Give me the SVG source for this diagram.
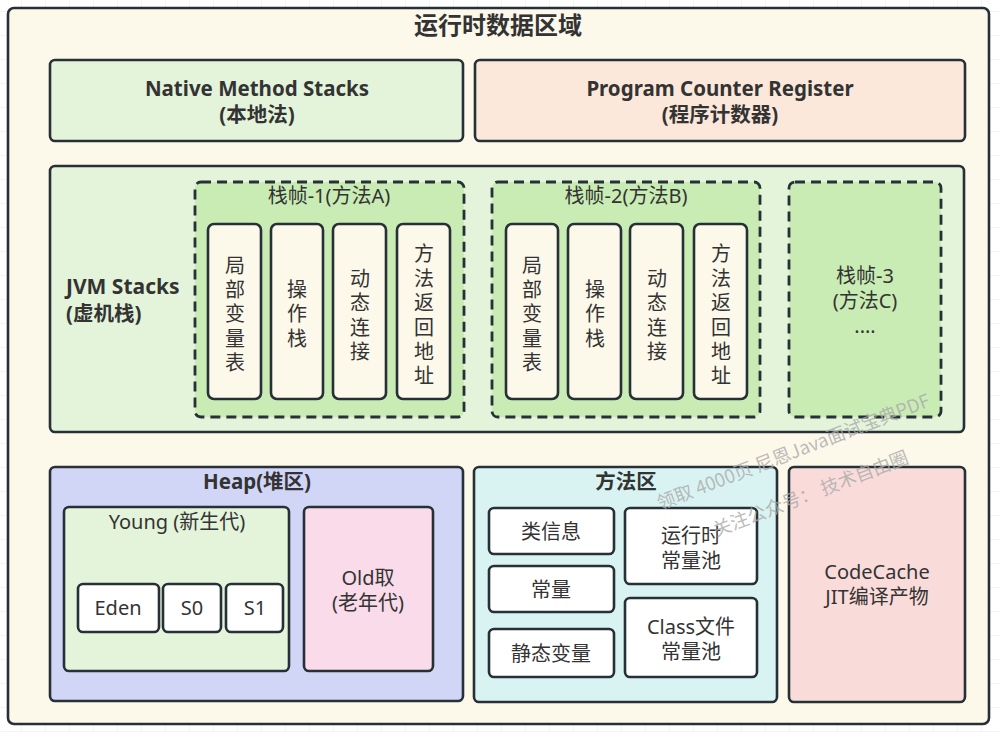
<svg xmlns="http://www.w3.org/2000/svg" width="1000" height="732" viewBox="0 0 1000 732">
<defs>
<pattern id="grid" x="21" y="11" width="24" height="24" patternUnits="userSpaceOnUse">
<path d="M0 0H24M0 0V24" fill="none" stroke="#e9e9e9" stroke-width="1"/>
</pattern>
<style>
.box{stroke:#263036;stroke-width:2.6}
.dash{stroke:#263036;stroke-width:2.8;stroke-dasharray:10 6}
text{font-family:"Noto Sans","Noto Sans CJK SC",sans-serif;fill:#333;text-anchor:middle;font-size:20px}
.b{font-weight:bold;font-size:20.5px}
.v{writing-mode:vertical-rl;letter-spacing:4.4px;font-family:"Noto Sans CJK SC",sans-serif}
.wm{font-family:"Noto Sans CJK SC",sans-serif;fill:#aaa;fill-opacity:0.8;font-size:18.5px;text-anchor:start}
</style>
</defs>
<rect width="1000" height="732" fill="#fff"/>
<rect width="1000" height="732" fill="url(#grid)"/>

<g id="outer">
<rect class="box" x="8" y="8" width="981" height="716" rx="6" fill="#fcf8ea"/>
<text class="b" x="498" y="34" style="font-size:24px">运行时数据区域</text>
</g>

<g id="native">
<rect class="box" x="50" y="60" width="413" height="81" rx="5" fill="#e3f4da"/>
<text class="b" x="257" y="96">Native Method Stacks</text>
<text class="b" x="257" y="122">(本地法)</text>
</g>

<g id="pc">
<rect class="box" x="475" y="60" width="490" height="81" rx="5" fill="#fbe8da"/>
<text class="b" x="720" y="96">Program Counter Register</text>
<text class="b" x="720" y="122">(程序计数器)</text>
</g>

<g id="jvmstacks">
<rect class="box" x="50" y="166" width="914" height="266" rx="5" fill="#e3f4da"/>
<text class="b" x="66" y="294" style="text-anchor:start;font-size:21px">JVM Stacks</text>
<text class="b" x="66" y="321" style="text-anchor:start">(虚机栈)</text>
</g>

<g id="frame1">
<rect class="dash" x="195" y="182" width="269" height="235" rx="6" fill="#c9ecb4"/>
<text x="329" y="203">栈帧-1(方法A)</text>
<rect class="box" x="208" y="224" width="53" height="175" rx="6" fill="#fcf8ea"/>
<text class="v" x="235" y="316">局部变量表</text>
<rect class="box" x="271" y="224" width="52" height="175" rx="6" fill="#fcf8ea"/>
<text class="v" x="297" y="316">操作栈</text>
<rect class="box" x="333" y="224" width="53" height="175" rx="6" fill="#fcf8ea"/>
<text class="v" x="360" y="317">动态连接</text>
<rect class="box" x="397" y="224" width="53" height="175" rx="6" fill="#fcf8ea"/>
<text class="v" x="424" y="317">方法返回地址</text>
</g>

<g id="frame2">
<rect class="dash" x="492" y="182" width="268" height="235" rx="6" fill="#c9ecb4"/>
<text x="626" y="203">栈帧-2(方法B)</text>
<rect class="box" x="506" y="224" width="52" height="175" rx="6" fill="#fcf8ea"/>
<text class="v" x="532" y="316">局部变量表</text>
<rect class="box" x="568" y="224" width="53" height="175" rx="6" fill="#fcf8ea"/>
<text class="v" x="595" y="316">操作栈</text>
<rect class="box" x="630" y="224" width="53" height="175" rx="6" fill="#fcf8ea"/>
<text class="v" x="657" y="317">动态连接</text>
<rect class="box" x="694" y="224" width="53" height="175" rx="6" fill="#fcf8ea"/>
<text class="v" x="721" y="317">方法返回地址</text>
</g>

<g id="frame3">
<rect class="dash" x="789" y="182" width="152" height="235" rx="6" fill="#c9ecb4"/>
<text><tspan x="865" y="283">栈帧-3</tspan><tspan x="865" y="308">(方法C)</tspan><tspan x="865" y="333">....</tspan></text>
</g>

<g id="heap">
<rect class="box" x="50" y="467" width="413" height="234" rx="5" fill="#d1d5f6"/>
<text class="b" x="257" y="489">Heap(堆区)</text>
</g>

<g id="young">
<rect class="box" x="64" y="507" width="225" height="164" rx="5" fill="#e3f4da"/>
<text x="177" y="529">Young (新生代)</text>
</g>
<g id="eden">
<rect class="box" x="78" y="584" width="81" height="48" rx="5" fill="#fff"/>
<text x="118" y="615">Eden</text>
</g>
<g id="s0">
<rect class="box" x="163" y="584" width="58" height="48" rx="5" fill="#fff"/>
<text x="192" y="615">S0</text>
</g>
<g id="s1">
<rect class="box" x="226" y="584" width="57" height="48" rx="5" fill="#fff"/>
<text x="255" y="615">S1</text>
</g>

<g id="old">
<rect class="box" x="304" y="507" width="129" height="164" rx="5" fill="#f9dbe9"/>
<text><tspan x="368" y="585">Old取</tspan><tspan x="368" y="610">(老年代)</tspan></text>
</g>

<g id="methodarea">
<rect class="box" x="474" y="467" width="303" height="235" rx="5" fill="#d9f3f2"/>
<text class="b" x="626" y="489">方法区</text>
</g>
<g id="classinfo">
<rect class="box" x="489" y="508" width="125" height="46" rx="5" fill="#fff"/>
<text x="551" y="539">类信息</text>
</g>
<g id="const">
<rect class="box" x="489" y="566" width="125" height="46" rx="5" fill="#fff"/>
<text x="551" y="597">常量</text>
</g>
<g id="static">
<rect class="box" x="489" y="629" width="125" height="48" rx="5" fill="#fff"/>
<text x="551" y="661">静态变量</text>
</g>
<g id="rtpool">
<rect class="box" x="625" y="508" width="132" height="76" rx="5" fill="#fff"/>
<text><tspan x="691" y="543">运行时</tspan><tspan x="691" y="568">常量池</tspan></text>
</g>
<g id="classpool">
<rect class="box" x="625" y="598" width="132" height="79" rx="5" fill="#fff"/>
<text><tspan x="691" y="634">Class文件</tspan><tspan x="691" y="659">常量池</tspan></text>
</g>

<g id="codecache">
<rect class="box" x="789" y="467" width="176" height="235" rx="5" fill="#f9dcda"/>
<text><tspan x="877" y="579">CodeCache</tspan><tspan x="877" y="604">JIT编译产物</tspan></text>
</g>

<g id="connectors"></g>

<g id="watermark">
<text class="wm" transform="translate(660,510) rotate(-21)">领取 4000页 尼恩Java面试宝典PDF</text>
<text class="wm" transform="translate(716,537) rotate(-21)">关注公众号：  技术自由圈</text>
</g>
</svg>
